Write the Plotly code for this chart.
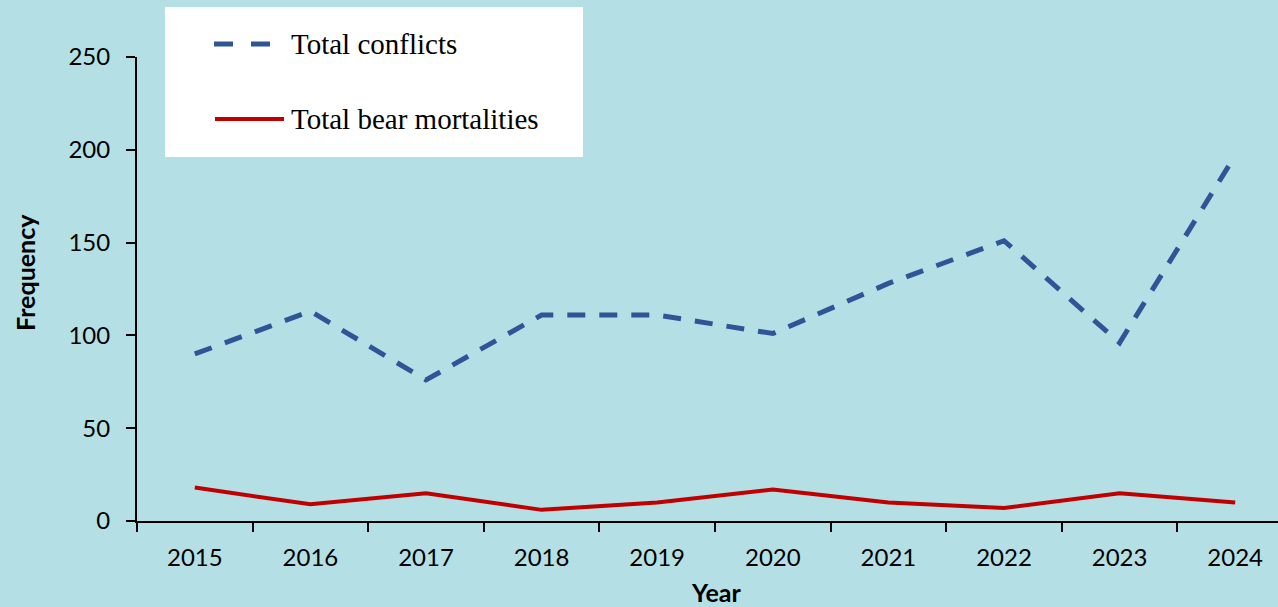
import plotly.graph_objects as go

years = ["2015", "2016", "2017", "2018", "2019", "2020", "2021", "2022", "2023", "2024"]
total_conflicts = [90, 113, 76, 111, 111, 101, 128, 151, 96, 197]
total_mortalities = [18, 9, 15, 6, 10, 17, 10, 7, 15, 10]
series_names = ["Total conflicts", "Total bear mortalities"]
y_ticks = [0, 50, 100, 150, 200, 250]

BG = "rgb(180,223,229)"
BLUE = "#2F5597"
RED = "#C00000"

W, H = 1278, 607
L, R, T, B = 137, 0, 57, 86

fig = go.Figure()
fig.add_trace(go.Scatter(x=years, y=total_conflicts, mode="lines", name=series_names[0],
                         line=dict(color=BLUE, width=5, dash="18px,14px"), showlegend=False))
fig.add_trace(go.Scatter(x=years, y=total_mortalities, mode="lines", name=series_names[1],
                         line=dict(color=RED, width=4), showlegend=False))

pw = W - L - R
ph = H - T - B
step = 115.6
xmax = (pw / step) - 0.5

def px_x(px):
    return (px - L) / pw

def px_y(py):
    return 1 - (py - T) / ph

# custom legend box
shapes = [
    dict(type="rect", xref="paper", yref="paper", x0=px_x(165), x1=px_x(583),
         y0=px_y(157), y1=px_y(7), fillcolor="white", line=dict(width=0), layer="above"),
    dict(type="line", xref="paper", yref="paper", x0=px_x(214), x1=px_x(272),
         y0=px_y(44), y1=px_y(44), line=dict(color=BLUE, width=5, dash="19px,18px"), layer="above"),
    dict(type="line", xref="paper", yref="paper", x0=px_x(215), x1=px_x(284),
         y0=px_y(119), y1=px_y(119), line=dict(color=RED, width=4), layer="above"),
]
annotations = [
    dict(text=series_names[0], xref="paper", yref="paper", x=px_x(289), y=px_y(44),
         xanchor="left", yanchor="middle", showarrow=False,
         font=dict(family="Liberation Serif", size=29, color="black")),
    dict(text=series_names[1], xref="paper", yref="paper", x=px_x(289), y=px_y(119),
         xanchor="left", yanchor="middle", showarrow=False,
         font=dict(family="Liberation Serif", size=29, color="black")),
    dict(text="<b>Frequency</b>", xref="paper", yref="paper", x=px_x(25), y=px_y(273),
         xanchor="center", yanchor="middle", textangle=-90, showarrow=False,
         font=dict(family="Lato", size=25, color="black")),
    dict(text="<b>Year</b>", xref="paper", yref="paper", x=px_x(716), y=px_y(592),
         xanchor="center", yanchor="middle", showarrow=False,
         font=dict(family="Lato", size=25, color="black")),
]

fig.update_layout(
    width=W, height=H,
    margin=dict(l=L, r=R, t=T, b=B, pad=0),
    paper_bgcolor=BG, plot_bgcolor=BG,
    font=dict(family="Lato", size=24, color="black"),
    shapes=shapes, annotations=annotations,
    showlegend=False,
)
fig.update_xaxes(type="category", range=[-0.5, xmax], tickson="boundaries",
                 ticks="outside", ticklen=9, tickwidth=2, tickcolor="black",
                 showline=True, linecolor="black", linewidth=2, showgrid=False,
                 zeroline=False, ticklabelstandoff=14, fixedrange=True)
fig.update_yaxes(range=[0, 250], tickvals=y_ticks, ticks="outside", ticklen=9,
                 tickwidth=2, tickcolor="black", showline=True, linecolor="black",
                 linewidth=2, showgrid=False, zeroline=False, ticklabelstandoff=11,
                 fixedrange=True)

fig.write_html(
    "out.html",
    config={"displayModeBar": False},
    post_script="document.body.style.margin='0';document.body.style.overflow='hidden';"
                "document.body.style.background='" + BG + "';",
)
